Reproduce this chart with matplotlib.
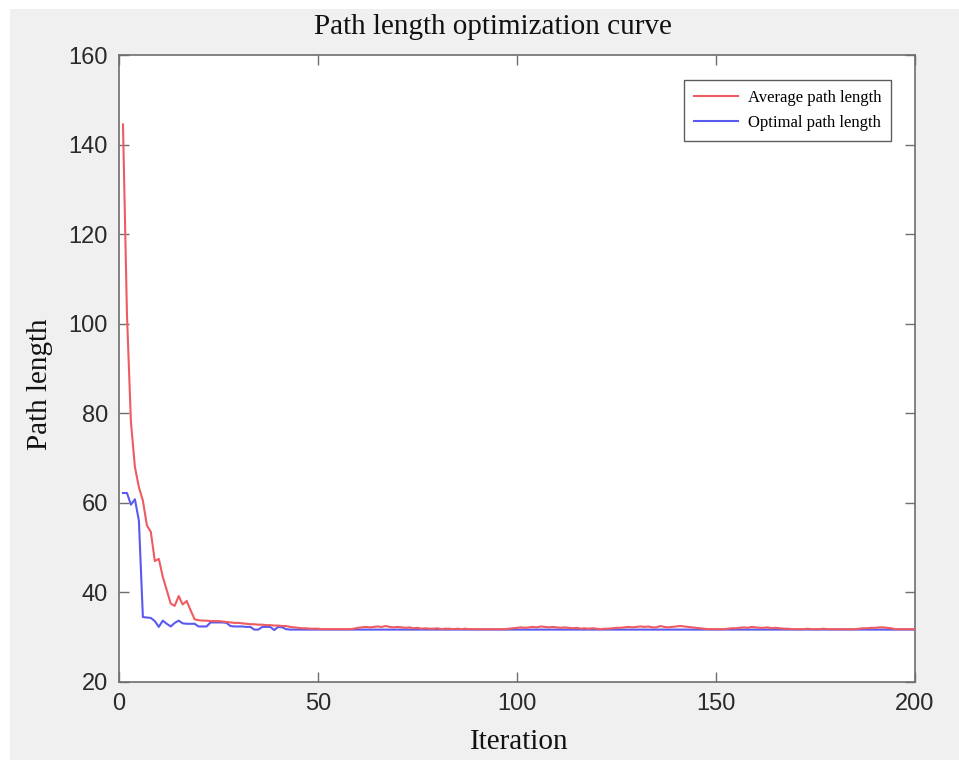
import matplotlib
matplotlib.use("Agg")
import matplotlib.pyplot as plt
from matplotlib.patches import Rectangle

# ---------------- data ----------------
iterations = list(range(1, 201))

avg_path = [
    144.5, 102.0, 78.0, 68.0, 63.5, 60.5, 55.0, 53.5, 47.0, 47.5,
    43.5, 40.5, 37.5, 37.0, 39.2, 37.3, 38.1, 36.0, 34.0, 33.8,
    33.7, 33.7, 33.6, 33.6, 33.6, 33.5, 33.4, 33.3, 33.2, 33.2,
    33.1, 33.0, 32.9, 32.9, 32.8, 32.8, 32.7, 32.7, 32.6, 32.6,
    32.5, 32.5, 32.3, 32.2, 32.1, 32.0, 32.0, 31.9, 31.9, 31.9,
    31.8, 31.8, 31.8, 31.8, 31.8, 31.8, 31.8, 31.8, 31.9, 32.1,
    32.2, 32.3, 32.2, 32.3, 32.4, 32.3, 32.5, 32.3, 32.2, 32.3,
    32.2, 32.1, 32.2, 32.0, 32.1, 31.9, 32.0, 31.9, 31.9, 32.0,
    31.8, 31.9, 31.9, 31.8, 31.9, 31.8, 31.9, 31.8, 31.8, 31.8,
    31.8, 31.8, 31.8, 31.8, 31.8, 31.8, 31.8, 31.9, 32.0, 32.1,
    32.2, 32.1, 32.2, 32.3, 32.2, 32.4, 32.3, 32.2, 32.3, 32.2,
    32.1, 32.2, 32.1, 32.0, 32.1, 31.9, 32.0, 31.9, 32.0, 31.9,
    31.8, 31.9, 31.9, 32.0, 32.1, 32.1, 32.2, 32.3, 32.2, 32.3,
    32.4, 32.3, 32.4, 32.2, 32.2, 32.5, 32.3, 32.2, 32.3, 32.4,
    32.5, 32.4, 32.3, 32.2, 32.1, 32.0, 31.9, 31.8, 31.8, 31.8,
    31.8, 31.8, 31.9, 32.0, 32.0, 32.1, 32.2, 32.1, 32.3, 32.2,
    32.1, 32.1, 32.2, 32.0, 32.1, 32.0, 31.9, 31.9, 31.8, 31.8,
    31.8, 31.8, 31.9, 31.8, 31.8, 31.8, 31.9, 31.8, 31.8, 31.8,
    31.8, 31.8, 31.8, 31.8, 31.8, 31.9, 32.0, 32.0, 32.1, 32.1,
    32.2, 32.2, 32.1, 32.0, 31.8, 31.8, 31.8, 31.8, 31.8, 31.8,
]

opt_path = [
    62.2, 62.2, 59.6, 60.8, 56.0, 34.5, 34.4, 34.3, 33.6, 32.3,
    33.7, 33.0, 32.4, 33.2, 33.7, 33.1, 33.0, 33.0, 33.0, 32.4,
    32.4, 32.4, 33.3, 33.3, 33.3, 33.3, 33.2, 32.5, 32.4, 32.4,
    32.4, 32.3, 32.3, 31.7, 31.7, 32.3, 32.3, 32.3, 31.6, 32.3,
    32.2, 31.8, 31.7, 31.7, 31.7, 31.7, 31.7, 31.7, 31.7, 31.7,
] + [31.7] * 150

x_ticks = [0, 50, 100, 150, 200]
y_ticks = [20, 40, 60, 80, 100, 120, 140, 160]

title_text = "Path length optimization curve"
x_label = "Iteration"
y_label = "Path length"
legend_labels = ["Average path length", "Optimal path length"]

# ---------------- figure ----------------
W, H = 959, 760
fig = plt.figure(figsize=(W / 100, H / 100), dpi=100, facecolor="white")
# grey MATLAB-like figure background (with thin white margin)
bg = Rectangle((10 / W, 0), 1 - 10 / W, 1 - 9 / H,
               transform=fig.transFigure, facecolor="#f0f0f0",
               edgecolor="none", zorder=-10)
fig.patches.append(bg)

left, right, top, bottom = 119, 915, 55, 682
ax = fig.add_axes([left / W, 1 - bottom / H, (right - left) / W, (bottom - top) / H])
ax.set_zorder(1)
ax.set_facecolor("white")

ax.plot(iterations, avg_path, color="#ee5c62", lw=1.5, label=legend_labels[0], zorder=3)
ax.plot(iterations, opt_path, color="#5a5af0", lw=1.5, label=legend_labels[1], zorder=2)

ax.set_xlim(0, 200)
ax.set_ylim(20, 160)
ax.set_xticks(x_ticks)
ax.set_yticks(y_ticks)

for s in ax.spines.values():
    s.set_color("#6e6e6e")
    s.set_linewidth(1.2)

ax.tick_params(direction="in", length=7, width=1.0, color="#6e6e6e",
               top=True, right=True, labelsize=17, labelcolor="#2a2a2a", pad=8)
for lab in ax.get_xticklabels() + ax.get_yticklabels():
    lab.set_fontfamily("Liberation Sans")

serif = "Liberation Serif"
fig.text(493 / W, 1 - 27 / H, title_text, ha="center", va="center",
         fontsize=21, family=serif, color="#111111", zorder=2)
fig.text(519 / W, 1 - 742 / H, x_label, ha="center", va="center",
         fontsize=21, family=serif, color="#111111", zorder=2)
fig.text(40 / W, 1 - 384 / H, y_label, ha="center", va="center", rotation=90,
         fontsize=21, family=serif, color="#111111", zorder=2)

leg = ax.legend(loc="upper right", bbox_to_anchor=(891 / W, 1 - 80 / H),
                bbox_transform=fig.transFigure, frameon=True, fancybox=False,
                prop={"family": serif, "size": 12}, handlelength=2.6,
                borderpad=0.6, labelspacing=0.55, handletextpad=0.6,
                borderaxespad=0)
leg.get_frame().set_edgecolor("#333333")
leg.get_frame().set_linewidth(1.0)

fig.savefig("out.png", dpi=100, facecolor=fig.get_facecolor())
